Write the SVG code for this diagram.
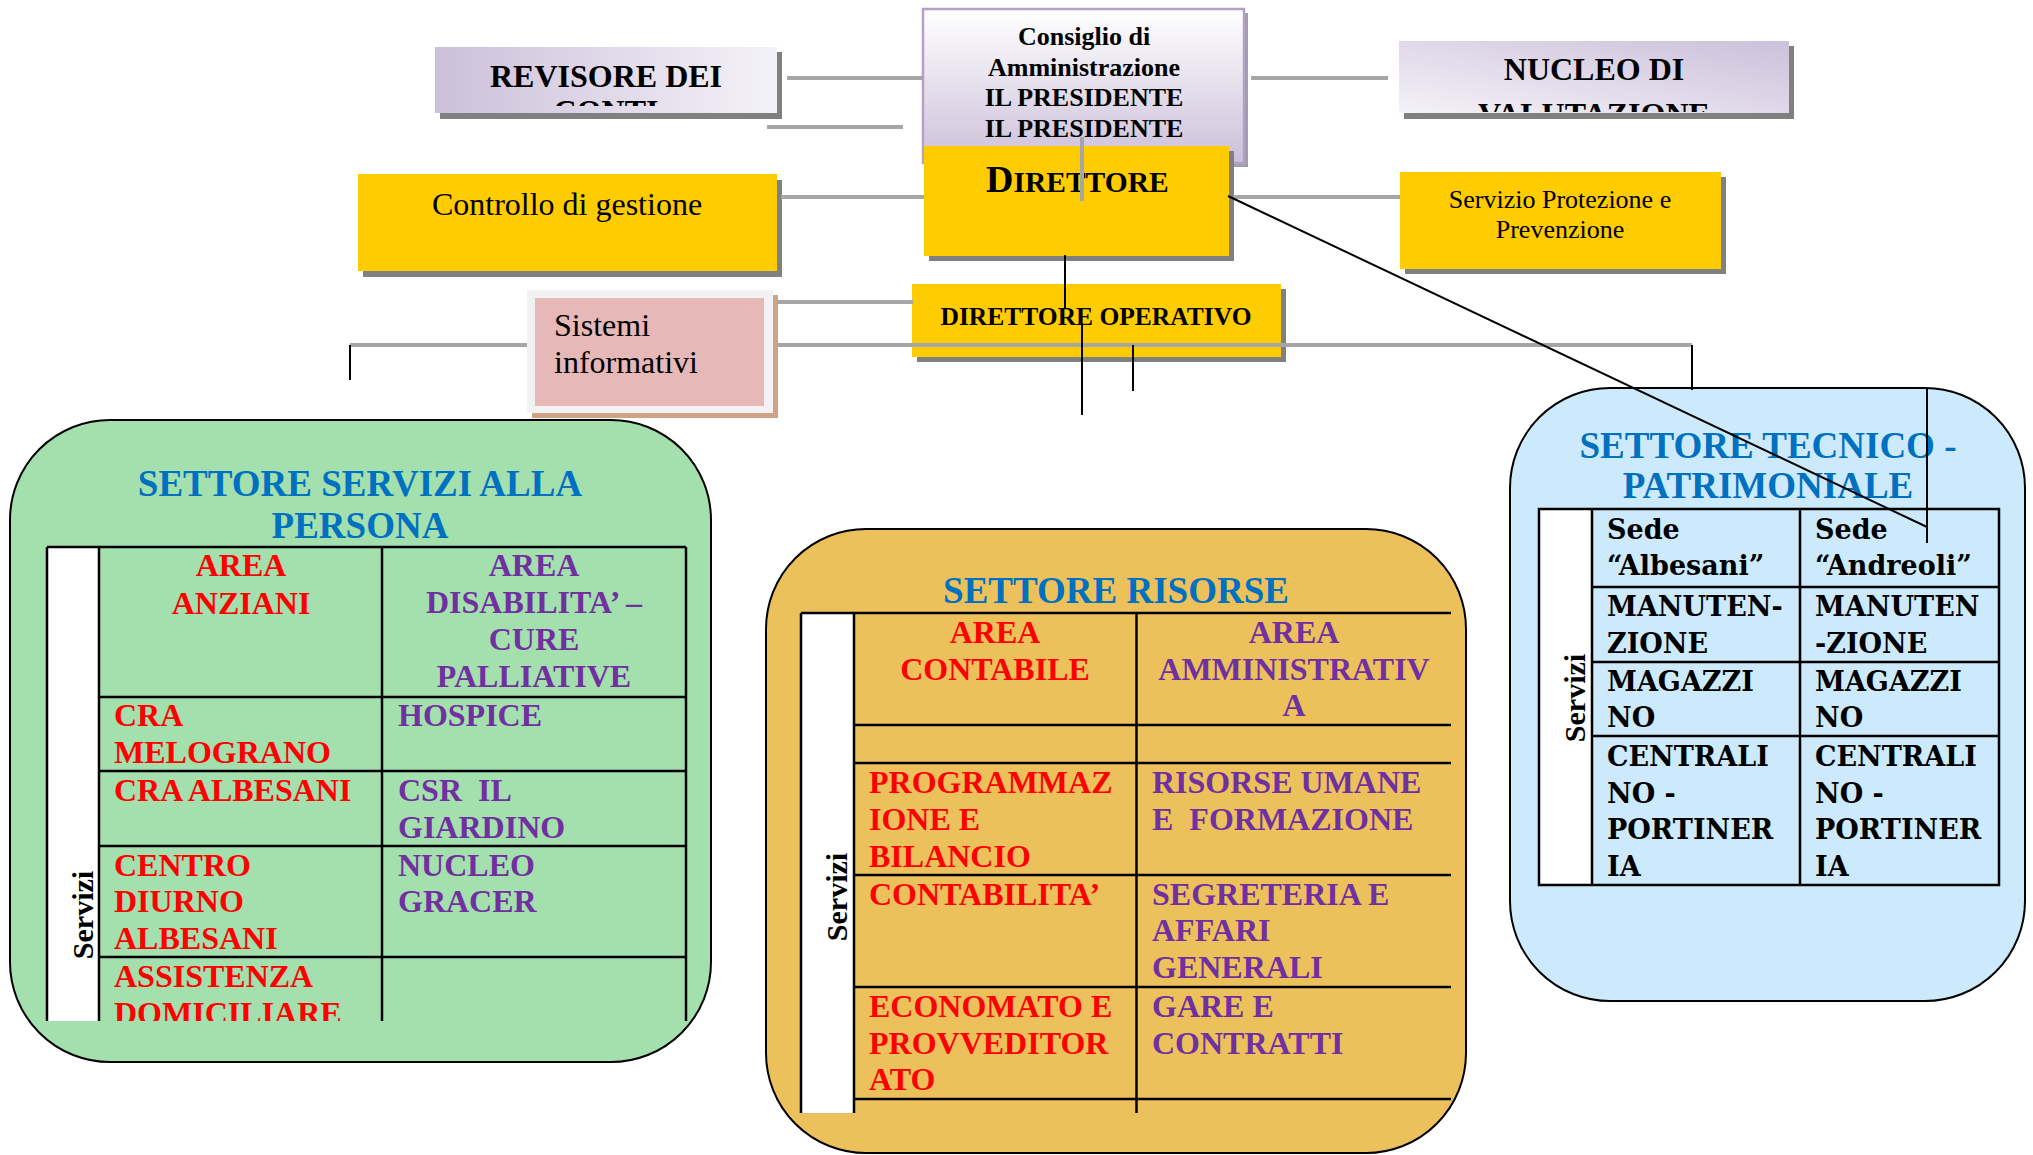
<svg xmlns="http://www.w3.org/2000/svg" width="2033" height="1155" viewBox="0 0 2033 1155">
<style>
text{font-family:"Liberation Serif","Times New Roman",serif}
.b{font-weight:bold}
.shd{fill:#808080}
.yel{fill:#ffcc00}
.gl{stroke:#a6a6a6;stroke-width:4;fill:none}
.bl{stroke:#000;stroke-width:2;fill:none}
.tl{stroke:#000;stroke-width:2.5;fill:none}
.ttl{font-weight:bold;font-size:37px;fill:#0070c0;text-anchor:middle}
.cell{font-weight:bold;font-size:32px}
.red{fill:#ff0000}
.pur{fill:#7030a0}
.mid{text-anchor:middle}
.srv{font-weight:bold;font-size:30px;text-anchor:middle}
.tec{font-family:"DejaVu Serif","Liberation Serif",serif;font-weight:bold;font-size:27px}
</style>
<defs>
<linearGradient id="gRev" x1="0" y1="0" x2="1" y2="0"><stop offset="0" stop-color="#ccc0da"/><stop offset="1" stop-color="#f4f2f8"/></linearGradient>
<linearGradient id="gNuc" x1="0" y1="1" x2="1" y2="0"><stop offset="0" stop-color="#f4f2f8"/><stop offset="1" stop-color="#ccc0da"/></linearGradient>
<linearGradient id="gCons" x1="0" y1="0" x2="0" y2="1"><stop offset="0" stop-color="#ffffff"/><stop offset="1" stop-color="#ccc0da"/></linearGradient>
<clipPath id="cRev"><rect x="435" y="47" width="342" height="59"/></clipPath>
<clipPath id="cNuc"><rect x="1399" y="41" width="390" height="71"/></clipPath>
<clipPath id="cGreen"><rect x="40" y="540" width="660" height="481"/></clipPath>
<clipPath id="cOr"><rect x="795" y="605" width="665" height="508"/></clipPath>
</defs>

<g id="consiglio">
<rect x="927" y="13" width="321" height="154" fill="#a39db0"/>
<rect x="923" y="9" width="321" height="154" fill="url(#gCons)" stroke="#b3a2c7" stroke-width="2.5"/>
<text class="b mid" font-size="26"><tspan x="1084" y="45">Consiglio di</tspan><tspan x="1084" y="75.5">Amministrazione</tspan><tspan x="1084" y="106">IL PRESIDENTE</tspan><tspan x="1084" y="136.5">IL PRESIDENTE</tspan></text>
</g>

<g id="revisore">
<rect x="440" y="52" width="342" height="67" class="shd"/>
<rect x="435" y="47" width="342" height="66" fill="url(#gRev)"/>
<g clip-path="url(#cRev)"><text class="b mid" font-size="32"><tspan x="606" y="87">REVISORE DEI</tspan><tspan x="606" y="122">CONTI</tspan></text></g>
</g>

<g id="nucleo">
<rect x="1404" y="46" width="390" height="73" class="shd"/>
<rect x="1399" y="41" width="390" height="72" fill="url(#gNuc)"/>
<g clip-path="url(#cNuc)"><text class="b mid" font-size="32"><tspan x="1594" y="80">NUCLEO DI</tspan><tspan x="1594" y="125">VALUTAZIONE</tspan></text></g>
</g>

<g id="direttore">
<rect x="929" y="151" width="305" height="110" class="shd"/>
<rect x="924" y="146" width="305" height="110" class="yel"/>
<text class="b" x="986" y="192"><tspan font-size="38">D</tspan><tspan font-size="29.5">IRETTORE</tspan></text>
</g>

<g id="controllo">
<rect x="363" y="180" width="419" height="97" class="shd"/>
<rect x="358" y="174" width="419" height="97" class="yel"/>
<text class="mid" x="567" y="215" font-size="32">Controllo di gestione</text>
</g>

<g id="servizio-protezione">
<rect x="1405" y="177" width="321" height="97" class="shd"/>
<rect x="1400" y="172" width="321" height="97" class="yel"/>
<text class="mid" font-size="26"><tspan x="1560" y="208">Servizio Protezione e</tspan><tspan x="1560" y="238">Prevenzione</tspan></text>
</g>

<g id="direttore-operativo">
<rect x="917" y="289" width="369" height="73" class="shd"/>
<rect x="912" y="284" width="369" height="73" class="yel"/>
<text class="b mid" x="1096" y="325" font-size="25.5">DIRETTORE OPERATIVO</text>
</g>

<g id="sistemi">
<rect x="532" y="295" width="246" height="123" fill="#cfa386"/>
<rect x="527" y="290" width="246" height="123" fill="#f2f2f2"/>
<rect x="535" y="298" width="229" height="108" fill="#e6b8b7"/>
<text font-size="32"><tspan x="554" y="336">Sistemi</tspan><tspan x="554" y="373">informativi</tspan></text>
</g>

<g id="settore-persona">
<rect x="10" y="420" width="701" height="642" rx="100" ry="100" fill="#a4dfae" stroke="#000" stroke-width="2"/>
<text class="ttl"><tspan x="360" y="496">SETTORE SERVIZI ALLA</tspan><tspan x="360" y="538">PERSONA</tspan></text>
<g clip-path="url(#cGreen)">
<rect x="47" y="547" width="52" height="480" fill="#fff"/>
<path class="tl" d="M47 547H686M99 697H686M99 771H686M99 846H686M99 957H686M47 547V1030M99 547V1030M382 547V1030M686 547V1030"/>
<text class="cell red mid"><tspan x="241" y="576">AREA</tspan><tspan x="241" y="614">ANZIANI</tspan></text>
<text class="cell pur mid"><tspan x="534" y="576">AREA</tspan><tspan x="534" y="613">DISABILITA’ –</tspan><tspan x="534" y="650">CURE</tspan><tspan x="534" y="687">PALLIATIVE</tspan></text>
<text class="cell red" xml:space="preserve"><tspan x="114" y="726">CRA</tspan><tspan x="114" y="763">MELOGRANO</tspan><tspan x="114" y="801">CRA ALBESANI</tspan><tspan x="114" y="876">CENTRO</tspan><tspan x="114" y="912">DIURNO</tspan><tspan x="114" y="949">ALBESANI</tspan><tspan x="114" y="987">ASSISTENZA</tspan><tspan x="114" y="1024">DOMICILIARE</tspan></text>
<text class="cell pur" xml:space="preserve"><tspan x="398" y="726">HOSPICE</tspan><tspan x="398" y="801">CSR  IL</tspan><tspan x="398" y="838">GIARDINO</tspan><tspan x="398" y="876">NUCLEO</tspan><tspan x="398" y="912">GRACER</tspan></text>
</g>
<text class="srv" transform="translate(93,915) rotate(-90)">Servizi</text>
</g>

<g id="settore-risorse">
<rect x="766" y="529" width="700" height="624" rx="100" ry="100" fill="#ecc15c" stroke="#000" stroke-width="2"/>
<text class="ttl" x="1116" y="603">SETTORE RISORSE</text>
<g clip-path="url(#cOr)">
<rect x="801" y="613" width="53" height="505" fill="#fff"/>
<path class="tl" d="M801 613H1451M854 725H1451M854 763H1451M854 875H1451M854 987H1451M854 1099H1451M801 613V1120M854 613V1120M1136.5 613V1120"/>
<text class="cell red mid"><tspan x="995" y="643">AREA</tspan><tspan x="995" y="680">CONTABILE</tspan></text>
<text class="cell pur mid"><tspan x="1294" y="643">AREA</tspan><tspan x="1294" y="680">AMMINISTRATIV</tspan><tspan x="1294" y="716">A</tspan></text>
<text class="cell red"><tspan x="869" y="793">PROGRAMMAZ</tspan><tspan x="869" y="830">IONE E</tspan><tspan x="869" y="867">BILANCIO</tspan><tspan x="869" y="905">CONTABILITA’</tspan><tspan x="869" y="1017">ECONOMATO E</tspan><tspan x="869" y="1054">PROVVEDITOR</tspan><tspan x="869" y="1090">ATO</tspan></text>
<text class="cell pur" xml:space="preserve"><tspan x="1152" y="793">RISORSE UMANE</tspan><tspan x="1152" y="830">E  FORMAZIONE</tspan><tspan x="1152" y="905">SEGRETERIA E</tspan><tspan x="1152" y="941">AFFARI</tspan><tspan x="1152" y="978">GENERALI</tspan><tspan x="1152" y="1017">GARE E</tspan><tspan x="1152" y="1054">CONTRATTI</tspan></text>
</g>
<text class="srv" transform="translate(847,897) rotate(-90)">Servizi</text>
</g>

<g id="settore-tecnico">
<rect x="1510" y="388" width="515" height="613" rx="100" ry="100" fill="#cdeafc" stroke="#000" stroke-width="2"/>
<text class="ttl"><tspan x="1768" y="458">SETTORE TECNICO -</tspan><tspan x="1768" y="498">PATRIMONIALE</tspan></text>
<rect x="1539" y="509" width="53" height="376" fill="#fff"/>
<path class="tl" d="M1539 509H1999V885H1539ZM1592 509V885M1800 509V885M1592 587H1999M1592 662H1999M1592 736H1999"/>
<text class="tec"><tspan x="1607" y="539">Sede</tspan><tspan x="1607" y="575">“Albesani”</tspan><tspan x="1607" y="616">MANUTEN-</tspan><tspan x="1607" y="653">ZIONE</tspan><tspan x="1607" y="691">MAGAZZI</tspan><tspan x="1607" y="727">NO</tspan><tspan x="1607" y="766">CENTRALI</tspan><tspan x="1607" y="803">NO -</tspan><tspan x="1607" y="839">PORTINER</tspan><tspan x="1607" y="876">IA</tspan></text>
<text class="tec"><tspan x="1815" y="539">Sede</tspan><tspan x="1815" y="575">“Andreoli”</tspan><tspan x="1815" y="616">MANUTEN</tspan><tspan x="1815" y="653">-ZIONE</tspan><tspan x="1815" y="691">MAGAZZI</tspan><tspan x="1815" y="727">NO</tspan><tspan x="1815" y="766">CENTRALI</tspan><tspan x="1815" y="803">NO -</tspan><tspan x="1815" y="839">PORTINER</tspan><tspan x="1815" y="876">IA</tspan></text>
<text class="srv" transform="translate(1585,698) rotate(-90)">Servizi</text>
</g>

<g id="connectors">
<path class="gl" d="M787 78H923M767 127H903M1251 78H1388M781 197H924M1233 197H1400M777 302H913M350 345H527M778 345H1692M1082 137V201"/>
<path class="bl" d="M350 345V380M1065 255V308M1082 323V415M1133 345V391M1692 345V390M1927 388V543M1228 196L1927 527"/>
</g>
</svg>
